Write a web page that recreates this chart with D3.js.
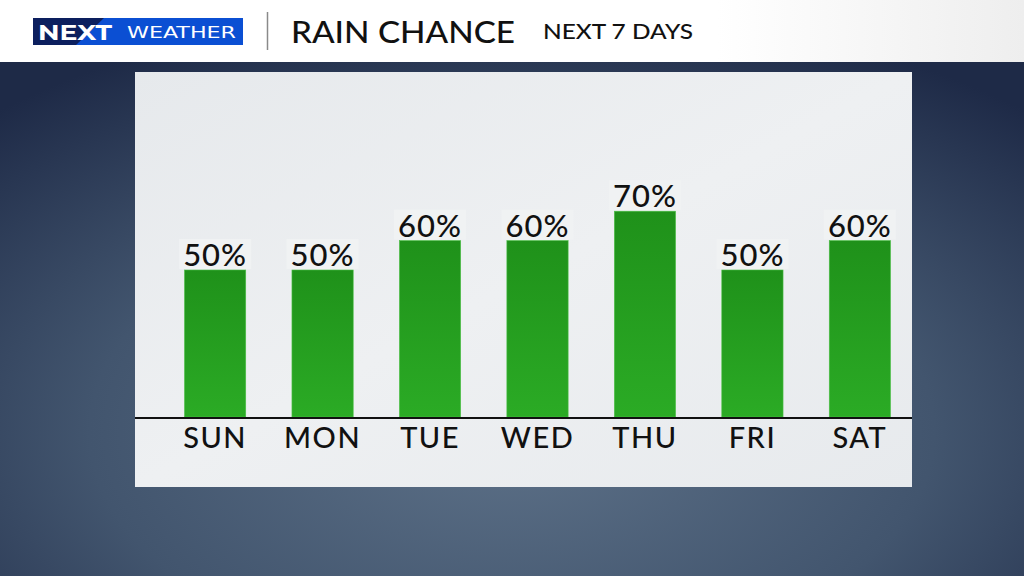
<!DOCTYPE html>
<html>
<head>
<meta charset="utf-8">
<style>
  html, body { margin: 0; padding: 0; background: #2b3a52; }
  svg { display: block; }
</style>
</head>
<body>
<svg width="1024" height="576"></svg>
<script src="https://cdn.jsdelivr.net/npm/d3@7"></script>
<script>

// chart data
var days = ["SUN", "MON", "TUE", "WED", "THU", "FRI", "SAT"];
var rainChance = [50, 50, 60, 60, 70, 50, 60];
var title = "RAIN CHANCE";
var subtitle = "NEXT 7 DAYS";

var svg = d3.select("svg"),
    W = +svg.attr("width"),
    H = +svg.attr("height");

var defs = svg.append("defs");

// background gradient (dark at top / corners, lighter in the middle)
var bg = defs.append("radialGradient").attr("id", "bg")
    .attr("cx", "50%").attr("cy", "75%").attr("r", "75%");
bg.append("stop").attr("offset", "0%").attr("stop-color", "#5d7188");
bg.append("stop").attr("offset", "55%").attr("stop-color", "#42556e");
bg.append("stop").attr("offset", "100%").attr("stop-color", "#1e2a47");

var panelGrad = defs.append("linearGradient").attr("id", "panel")
    .attr("x1", "0").attr("y1", "0").attr("x2", "1").attr("y2", "1");
panelGrad.append("stop").attr("offset", "0%").attr("stop-color", "#e6e9ec");
panelGrad.append("stop").attr("offset", "50%").attr("stop-color", "#eef0f2");
panelGrad.append("stop").attr("offset", "100%").attr("stop-color", "#e7eaed");

var barGrad = defs.append("linearGradient").attr("id", "bar")
    .attr("x1", "0").attr("y1", "0").attr("x2", "0").attr("y2", "1");
barGrad.append("stop").attr("offset", "0%").attr("stop-color", "#1f911a");
barGrad.append("stop").attr("offset", "100%").attr("stop-color", "#2bab25");

var headGrad = defs.append("linearGradient").attr("id", "head")
    .attr("x1", "0").attr("y1", "0").attr("x2", "1").attr("y2", "0");
headGrad.append("stop").attr("offset", "0%").attr("stop-color", "#ffffff");
headGrad.append("stop").attr("offset", "70%").attr("stop-color", "#ffffff");
headGrad.append("stop").attr("offset", "100%").attr("stop-color", "#eeeeee");

svg.append("rect").attr("width", W).attr("height", H).attr("fill", "url(#bg)");

// header band
svg.append("rect").attr("width", W).attr("height", 62).attr("fill", "url(#head)");

// logo
var logo = svg.append("g").attr("transform", "translate(33,18)");
logo.append("rect").attr("width", 210).attr("height", 27).attr("fill", "#0b4fd3");
logo.append("path").attr("d", "M0,0H71L43,27H0Z").attr("fill", "#0c1f5e");
logo.append("text").attr("x", 5).attr("y", 22)
    .attr("font-family", "Montserrat, 'DejaVu Sans', sans-serif")
    .attr("font-weight", 700).attr("font-size", 22).attr("fill", "#fff")
    .attr("textLength", 74).attr("lengthAdjust", "spacingAndGlyphs")
    .text("NEXT");
logo.append("text").attr("x", 94).attr("y", 20)
    .attr("font-family", "'DejaVu Sans', sans-serif")
    .attr("font-size", 16).attr("fill", "#fff")
    .attr("textLength", 109).attr("lengthAdjust", "spacingAndGlyphs")
    .text("WEATHER");

svg.append("line").attr("x1", 267.5).attr("x2", 267.5).attr("y1", 12).attr("y2", 50)
    .attr("stroke", "#8a8a8a").attr("stroke-width", 1.5);

svg.append("text").attr("x", 291).attr("y", 43)
    .attr("font-family", "Lato, sans-serif").attr("font-weight", 500)
    .attr("font-size", 31).attr("fill", "#111")
    .attr("textLength", 224).attr("lengthAdjust", "spacingAndGlyphs")
    .text(title);
svg.append("text").attr("x", 543).attr("y", 39)
    .attr("font-family", "Lato, sans-serif").attr("font-weight", 500)
    .attr("font-size", 22).attr("fill", "#111")
    .attr("textLength", 150).attr("lengthAdjust", "spacingAndGlyphs")
    .text(subtitle);

// panel
var panel = {left: 135, top: 72, right: 912, bottom: 487};
svg.append("rect")
    .attr("x", panel.left).attr("y", panel.top)
    .attr("width", panel.right - panel.left).attr("height", panel.bottom - panel.top)
    .attr("fill", "url(#panel)");

var baseline = 417;

var x = d3.scaleBand()
    .domain(days)
    .range([163, 912])
    .paddingInner(0.43)
    .paddingOuter(0.2);

var y = d3.scaleLinear().domain([0, 100]).range([baseline, baseline - 294]);

var g = svg.append("g");

// value label backgrounds
g.selectAll("rect.lblbg")
  .data(rainChance)
  .enter().append("rect")
    .attr("class", "lblbg")
    .attr("x", function(d, i) { return x(days[i]) + x.bandwidth() / 2 - 36; })
    .attr("y", function(d) { return y(d) - 31; })
    .attr("width", 72).attr("height", 30)
    .attr("fill", "#f0f2f3");

g.selectAll("rect.bar")
  .data(rainChance)
  .enter().append("rect")
    .attr("class", "bar")
    .attr("x", function(d, i) { return x(days[i]); })
    .attr("y", function(d) { return y(d); })
    .attr("width", x.bandwidth())
    .attr("height", function(d) { return baseline - y(d); })
    .attr("fill", "url(#bar)")
    .attr("stroke", "#4cc046").attr("stroke-width", 0.6);

g.selectAll("text.val")
  .data(rainChance)
  .enter().append("text")
    .attr("class", "val")
    .attr("x", function(d, i) { return x(days[i]) + x.bandwidth() / 2; })
    .attr("y", function(d) { return y(d) - 4; })
    .attr("text-anchor", "middle")
    .attr("font-family", "Lato, sans-serif").attr("font-weight", 500)
    .attr("font-size", 31).attr("fill", "#111")
    .attr("letter-spacing", 1)
    .text(function(d) { return d + "%"; });

// baseline
svg.append("line")
    .attr("x1", panel.left).attr("x2", panel.right)
    .attr("y1", baseline + 1).attr("y2", baseline + 1)
    .attr("stroke", "#111").attr("stroke-width", 2);

// day labels via axis
var axis = svg.append("g")
    .attr("transform", "translate(0," + (baseline + 2) + ")")
    .call(d3.axisBottom(x).tickSize(0).tickPadding(8));
axis.select(".domain").remove();
axis.selectAll("text")
    .attr("font-family", "Lato, sans-serif").attr("font-weight", 500)
    .attr("font-size", 29).attr("fill", "#111")
    .attr("letter-spacing", 1.5);

</script>
</body>
</html>
